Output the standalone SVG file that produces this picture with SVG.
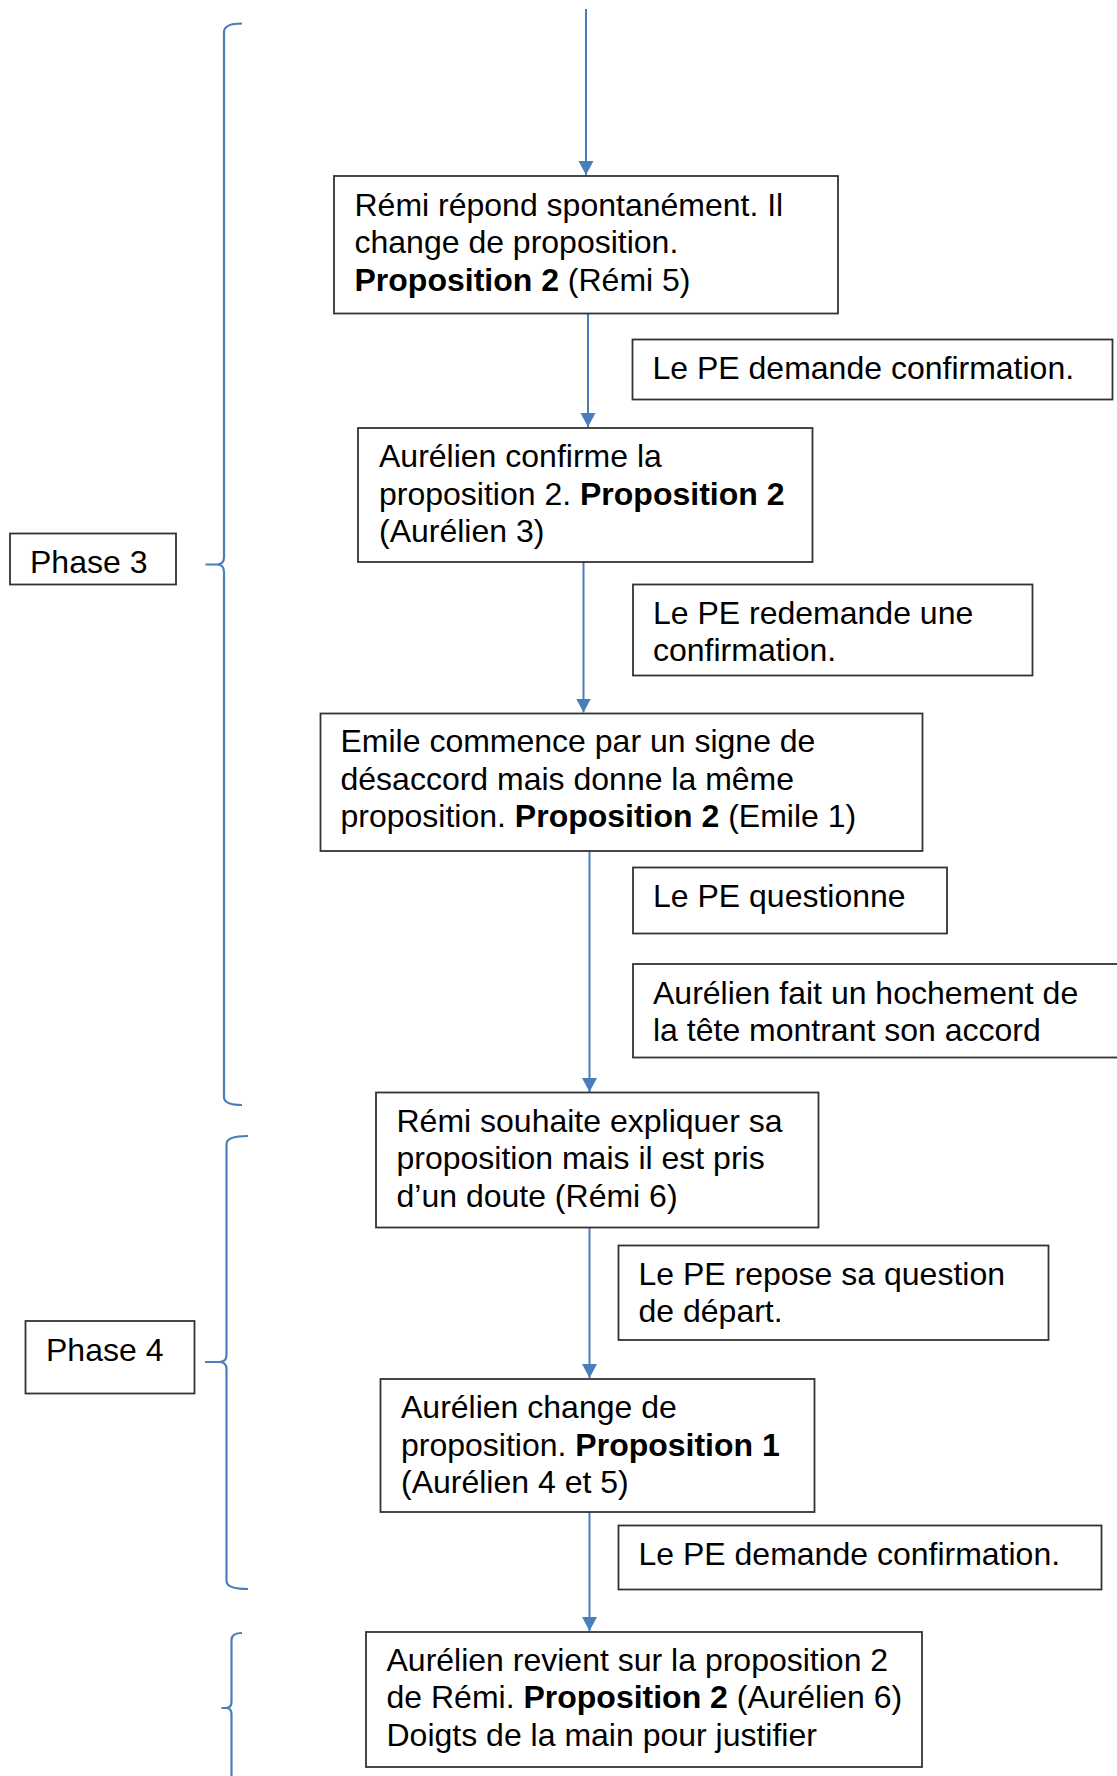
<svg xmlns="http://www.w3.org/2000/svg" width="1117" height="1776" viewBox="0 0 1117 1776">
<style>
  .box { fill: #ffffff; stroke: #333333; stroke-width: 1.8; }
  .t { font-family: "Liberation Sans", Arial, sans-serif; font-size: 32px; fill: #000000; }
  .b { font-weight: bold; }
  .conn { stroke: #4A7EBB; stroke-width: 2; fill: none; }
  .brace { stroke: #4A7EBB; stroke-width: 2.2; fill: none; }
</style>
<defs>
  <marker id="arr" markerUnits="userSpaceOnUse" markerWidth="16" markerHeight="16" refX="14" refY="7.5" orient="auto">
    <path d="M0,0 L14,7.5 L0,15 z" fill="#4A7EBB"/>
  </marker>
</defs>
<rect x="0" y="0" width="1117" height="1776" fill="#ffffff"/>

<g id="connectors">
  <line class="conn" x1="586" y1="9" x2="586" y2="175" marker-end="url(#arr)"/>
  <line class="conn" x1="588" y1="313" x2="588" y2="427" marker-end="url(#arr)"/>
  <line class="conn" x1="583.5" y1="562" x2="583.5" y2="712.5" marker-end="url(#arr)"/>
  <line class="conn" x1="589.5" y1="851" x2="589.5" y2="1092" marker-end="url(#arr)"/>
  <line class="conn" x1="589.5" y1="1228" x2="589.5" y2="1378" marker-end="url(#arr)"/>
  <line class="conn" x1="589.5" y1="1512" x2="589.5" y2="1631" marker-end="url(#arr)"/>
</g>

<g id="braces">
  <path class="brace" d="M242,23.5 Q224,23.5 224,32 V557 Q224,564.5 217,564.5 H205.5 M217,564.5 Q224,564.5 224,572 V1097 Q224,1105 242,1105"/>
  <path class="brace" d="M248,1136 Q226.5,1136 226.5,1144 V1355 Q226.5,1362 219,1362 H205 M219,1362 Q226.5,1362 226.5,1369 V1581 Q226.5,1589 248,1589"/>
  <path class="brace" d="M242,1633 Q231.5,1633 231.5,1640 V1702 Q231.5,1708 226,1708 H221.5 M226,1708 Q231.5,1708 231.5,1714 V1776"/>
</g>

<g id="phase3">
  <rect class="box" x="10" y="533.5" width="166" height="51"/>
  <text class="t" x="30" y="573">Phase 3</text>
</g>

<g id="phase4">
  <rect class="box" x="25.5" y="1321" width="169" height="72.5"/>
  <text class="t" x="46" y="1360.5">Phase 4</text>
</g>

<g id="box-remi5">
  <rect class="box" x="334" y="176" width="504" height="137.5"/>
  <text class="t" x="354.5" y="215.5">Rémi répond spontanément. Il</text>
  <text class="t" x="354.5" y="253">change de proposition.</text>
  <text class="t" x="354.5" y="290.5"><tspan class="b">Proposition 2</tspan> (Rémi 5)</text>
</g>

<g id="box-pe-confirm1">
  <rect class="box" x="632.5" y="339.5" width="480" height="60"/>
  <text class="t" x="652.5" y="379">Le PE demande confirmation.</text>
</g>

<g id="box-aurelien3">
  <rect class="box" x="358" y="428" width="454.5" height="134"/>
  <text class="t" x="379" y="467">Aurélien confirme la</text>
  <text class="t" x="379" y="504.5">proposition 2. <tspan class="b">Proposition 2</tspan></text>
  <text class="t" x="379" y="542">(Aurélien 3)</text>
</g>

<g id="box-pe-redemande">
  <rect class="box" x="633" y="584.5" width="399.5" height="91"/>
  <text class="t" x="653" y="623.5">Le PE redemande une</text>
  <text class="t" x="653" y="661">confirmation.</text>
</g>

<g id="box-emile1">
  <rect class="box" x="320.5" y="713.5" width="602" height="137.5"/>
  <text class="t" x="340.5" y="752.3">Emile commence par un signe de</text>
  <text class="t" x="340.5" y="789.8">désaccord mais donne la même</text>
  <text class="t" x="340.5" y="827.3">proposition. <tspan class="b">Proposition 2</tspan> (Emile 1)</text>
</g>

<g id="box-pe-questionne">
  <rect class="box" x="633" y="867.5" width="314" height="66"/>
  <text class="t" x="653" y="906.5">Le PE questionne</text>
</g>

<g id="box-aurelien-hochement">
  <rect class="box" x="633" y="964" width="500" height="93.5"/>
  <text class="t" x="653" y="1003.5">Aurélien fait un hochement de</text>
  <text class="t" x="653" y="1041">la tête montrant son accord</text>
</g>

<g id="box-remi6">
  <rect class="box" x="376" y="1092.5" width="442.5" height="135"/>
  <text class="t" x="396.5" y="1131.5">Rémi souhaite expliquer sa</text>
  <text class="t" x="396.5" y="1169">proposition mais il est pris</text>
  <text class="t" x="396.5" y="1206.5">d’un doute (Rémi 6)</text>
</g>

<g id="box-pe-repose">
  <rect class="box" x="618.5" y="1245.5" width="430" height="94.5"/>
  <text class="t" x="638.5" y="1284.5">Le PE repose sa question</text>
  <text class="t" x="638.5" y="1322">de départ.</text>
</g>

<g id="box-aurelien45">
  <rect class="box" x="380.5" y="1379" width="434" height="133"/>
  <text class="t" x="401" y="1418">Aurélien change de</text>
  <text class="t" x="401" y="1455.5">proposition. <tspan class="b">Proposition 1</tspan></text>
  <text class="t" x="401" y="1493">(Aurélien 4 et 5)</text>
</g>

<g id="box-pe-confirm2">
  <rect class="box" x="618.5" y="1525.5" width="483" height="64"/>
  <text class="t" x="638.5" y="1564.5">Le PE demande confirmation.</text>
</g>

<g id="box-aurelien6">
  <rect class="box" x="366" y="1632" width="556" height="135"/>
  <text class="t" x="386.5" y="1670.7">Aurélien revient sur la proposition 2</text>
  <text class="t" x="386.5" y="1708.2">de Rémi. <tspan class="b">Proposition 2</tspan> (Aurélien 6)</text>
  <text class="t" x="386.5" y="1745.7">Doigts de la main pour justifier</text>
</g>
</svg>
